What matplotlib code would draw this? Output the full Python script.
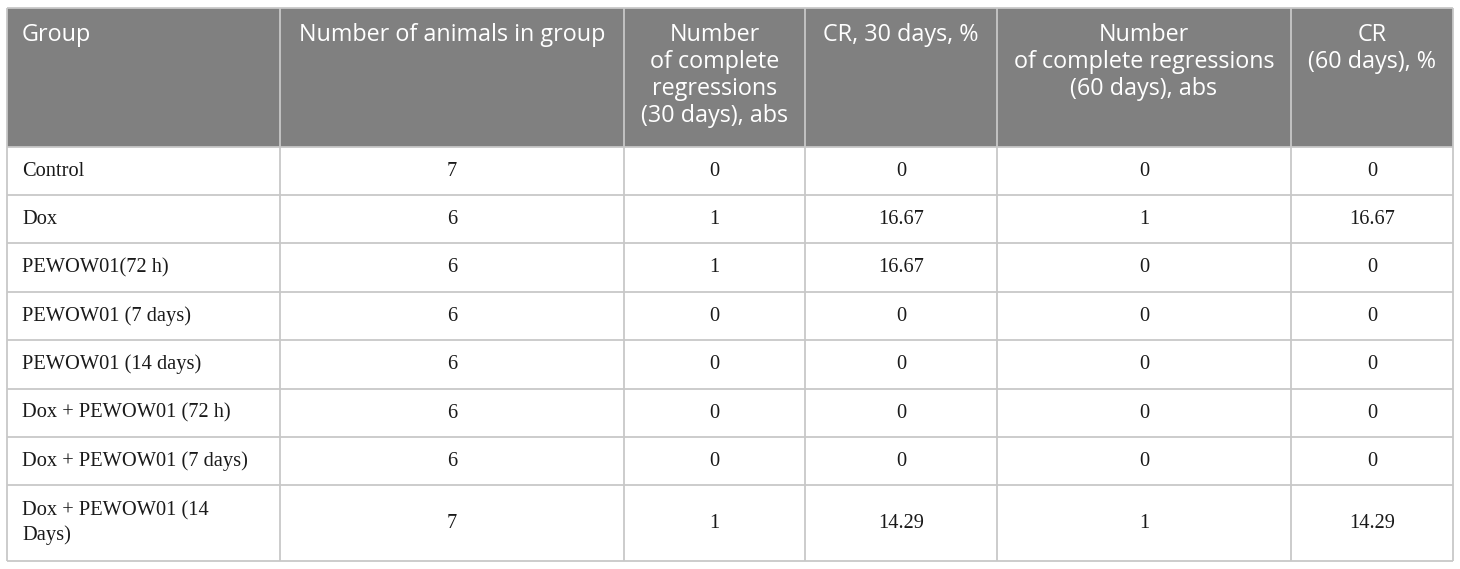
import textwrap
import matplotlib
matplotlib.use("Agg")
import matplotlib.pyplot as plt
from matplotlib.patches import Rectangle

headers = ["Group", "Number of animals in group",
           "Number\nof complete\nregressions\n(30 days), abs",
           "CR, 30 days, %",
           "Number\nof complete regressions\n(60 days), abs",
           "CR\n(60 days), %"]
groups = ["Control", "Dox", "PEWOW01(72 h)", "PEWOW01 (7 days)", "PEWOW01 (14 days)",
          "Dox + PEWOW01 (72 h)", "Dox + PEWOW01 (7 days)", "Dox + PEWOW01 (14 Days)"]
n_animals = [7, 6, 6, 6, 6, 6, 6, 7]
cr30_abs = [0, 1, 1, 0, 0, 0, 0, 1]
cr30_pct = [0, 16.67, 16.67, 0, 0, 0, 0, 14.29]
cr60_abs = [0, 1, 0, 0, 0, 0, 0, 1]
cr60_pct = [0, 16.67, 0, 0, 0, 0, 0, 14.29]

W, H = 1460, 569
fig = plt.figure(figsize=(W / 100, H / 100), dpi=100)
ax = fig.add_axes([0, 0, 1, 1])
ax.set_xlim(0, W)
ax.set_ylim(H, 0)
ax.axis("off")

col_x = [7, 280, 624, 805, 997, 1291, 1453]
row_y = [8, 147, 195, 243, 292, 340, 389, 437, 485, 561]
grid_c = "#c8c8c8"
head_c = "#808080"

ax.add_patch(Rectangle((col_x[0], row_y[0]), col_x[-1] - col_x[0], row_y[1] - row_y[0],
                       facecolor=head_c, edgecolor="none", zorder=1))
for x in col_x:
    ax.plot([x, x], [row_y[0], row_y[-1]], color=grid_c, lw=1.3, zorder=2,
            solid_capstyle="butt")
for y in row_y:
    ax.plot([col_x[0], col_x[-1]], [y, y], color=grid_c, lw=1.3, zorder=2,
            solid_capstyle="butt")

hfont = dict(family="Open Sans", size=16.8, color="white")
for i, h in enumerate(headers):
    if i == 0:
        ax.text(col_x[0] + 15, 22.5, h, ha="left", va="top", linespacing=1.17, zorder=3, **hfont)
    else:
        ax.text((col_x[i] + col_x[i + 1]) / 2, 22.5, h, ha="center", va="top",
                multialignment="center", linespacing=1.17, zorder=3, **hfont)

bfont = dict(family="Liberation Serif", size=14.7, color="#1a1a1a")
cols = [n_animals, cr30_abs, cr30_pct, cr60_abs, cr60_pct]
for r, g in enumerate(groups):
    yc = (row_y[r + 1] + row_y[r + 2]) / 2
    ax.text(col_x[0] + 15, yc, textwrap.fill(g, 22), ha="left", va="center",
            linespacing=1.3, zorder=3, **bfont)
    for c, vals in enumerate(cols):
        ax.text((col_x[c + 1] + col_x[c + 2]) / 2, yc, f"{vals[r]:g}", ha="center",
                va="center", zorder=3, **bfont)

fig.savefig("out.png", dpi=100)
